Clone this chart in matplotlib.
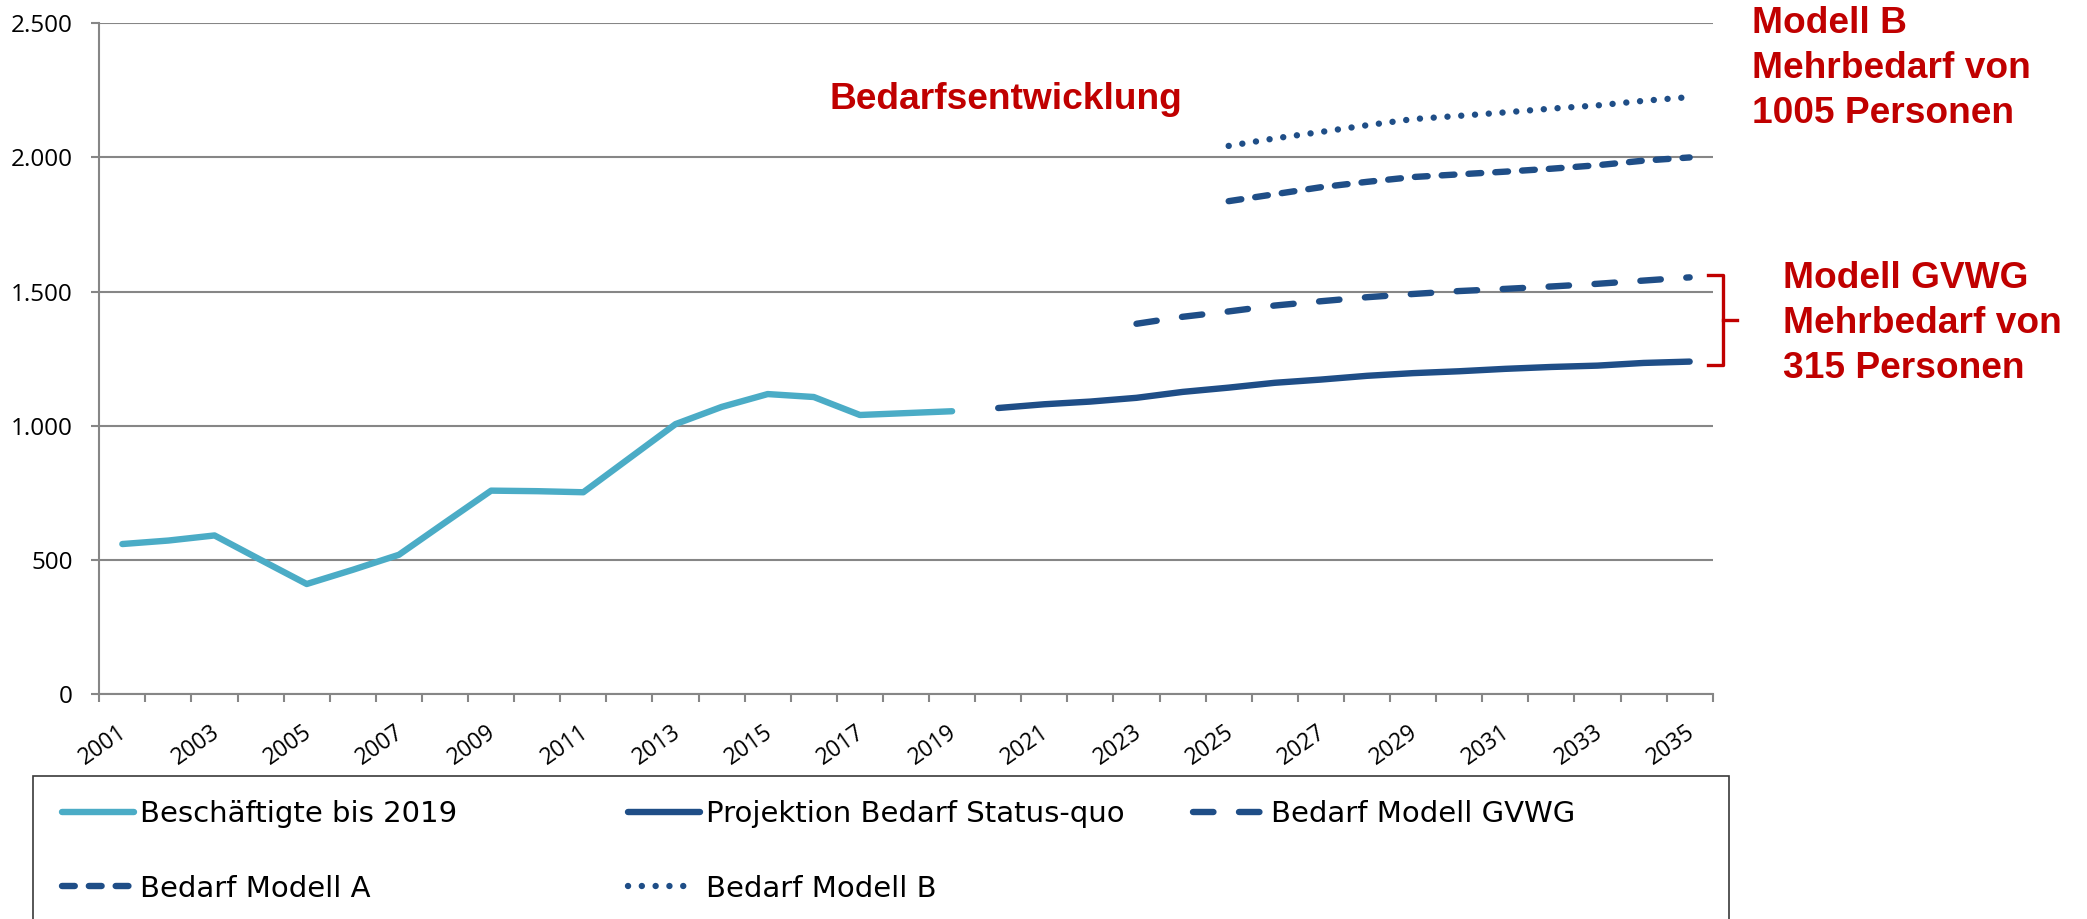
import numpy as np
import matplotlib.pyplot as plt
from matplotlib.lines import Line2D
from matplotlib.transforms import ScaledTranslation

W, H = 2087, 919

# data
years = np.arange(2001, 2036)
besch_years = np.arange(2001, 2020)
besch = [559, 572, 591, 500, 410, 463, 519, 639, 758, 756, 752, 879, 1006, 1070, 1118, 1107, 1040, 1047, 1054]
sq_years = np.arange(2020, 2036)
status_quo = [1066, 1080, 1090, 1104, 1126, 1142, 1160, 1172, 1186, 1196, 1203, 1212, 1219, 1224, 1234, 1239]
gvwg_years = np.arange(2023, 2036)
gvwg = [1380, 1406, 1426, 1448, 1464, 1479, 1491, 1502, 1510, 1519, 1529, 1541, 1553]
ab_years = np.arange(2025, 2036)
modell_a = [1837, 1863, 1889, 1909, 1927, 1937, 1947, 1958, 1971, 1988, 2000]
modell_b = [2043, 2071, 2095, 2120, 2143, 2155, 2168, 2182, 2194, 2211, 2225]

yticks = [0, 500, 1000, 1500, 2000, 2500]
ytick_labels = ['0', '500', '1.000', '1.500', '2.000', '2.500']
names = ['Beschäftigte bis 2019', 'Projektion Bedarf Status-quo', 'Bedarf Modell GVWG',
         'Bedarf Modell A', 'Bedarf Modell B']

light = '#4BACC6'
dark = '#1F4E87'
red = '#C00000'
grey = '#868686'

styles = [
    dict(color=light, ls='-'),
    dict(color=dark, ls='-'),
    dict(color=dark, ls=(0, (3.2, 4.0))),
    dict(color=dark, ls=(0, (2.0, 2.2))),
    dict(color=dark, ls=(0, (0.01, 2.15))),
]
common = dict(lw=4.6, solid_capstyle='round', dash_capstyle='round', solid_joinstyle='round')

fig = plt.figure(figsize=(W / 100, H / 100), dpi=100)
ax = fig.add_axes([99.3 / W, 1 - 694 / H, (1712.7 - 99.3) / W, (694 - 23.3) / H])

def xi(yrs):
    return np.asarray(yrs) - years[0]

series = [(besch_years, besch), (sq_years, status_quo), (gvwg_years, gvwg),
          (ab_years, modell_a), (ab_years, modell_b)]
for (yrs, vals), st, name in zip(series, styles, names):
    ax.plot(xi(yrs), vals, label=name, zorder=3, **st, **common)

ax.set_xlim(-0.5, len(years) - 0.5)
ax.set_ylim(0, 2500)

# axes / grid
for s in ['top', 'right']:
    ax.spines[s].set_visible(False)
for s in ['left', 'bottom']:
    ax.spines[s].set_color(grey)
    ax.spines[s].set_linewidth(1.5)
ax.set_yticks(yticks)
ax.set_yticklabels(ytick_labels, fontfamily='Open Sans', fontsize=17.5)
ax.yaxis.grid(True, color=grey, lw=1.5)
ax.tick_params(axis='y', length=6, width=1.5, color=grey, pad=13)

ax.set_xticks(xi(years[::2]))
ax.set_xticklabels([str(y) for y in years[::2]], fontfamily='Open Sans', fontsize=16.5,
                   rotation=35, ha='right', va='top', rotation_mode='anchor')
ax.tick_params(axis='x', which='major', length=0, pad=19)
shift = ScaledTranslation(-4.4 / 100, 0, fig.dpi_scale_trans)
for lbl in ax.get_xticklabels():
    lbl.set_transform(lbl.get_transform() + shift)
ax.set_xticks(np.arange(-0.5, len(years)), minor=True)
ax.tick_params(axis='x', which='minor', length=6, width=1.5, color=grey, direction='out')

# red annotations
red_font = dict(color=red, fontsize=26.7, fontfamily='Liberation Sans', fontweight='bold',
                va='baseline')
fig.text(829 / W, 1 - 109 / H, 'Bedarfsentwicklung', **red_font)
for k, line in enumerate(['Modell B', 'Mehrbedarf von', '1005 Personen']):
    fig.text(1752 / W, 1 - (33 + 45 * k) / H, line, **red_font)
for k, line in enumerate(['Modell GVWG', 'Mehrbedarf von', '315 Personen']):
    fig.text(1783 / W, 1 - (288 + 45 * k) / H, line, **red_font)

# bracket between status quo and GVWG at 2035
lo, hi = status_quo[-1] - 12, gvwg[-1] + 9
mid = (lo + hi) / 2
xb = xi(years[-1])
ax.plot([xb + 0.4, xb + 0.72, xb + 0.72, xb + 0.4], [hi, hi, lo, lo],
        color=red, lw=2.4, clip_on=False, solid_joinstyle='round')
ax.plot([xb + 0.72, xb + 1.03], [mid, mid], color=red, lw=2.4, clip_on=False)

# legend box drawn by hand (fixed column layout)
fig.add_artist(plt.Rectangle((33 / W, -0.05), (1729 - 33) / W, 0.05 + 1 - 776 / H,
                             transform=fig.transFigure, fill=False, ec='#3a3a3a', lw=1.2))
cols = [62, 628, 1193]
rows = [(812, 822), (886, 897)]
spots = [(0, 0), (0, 1), (0, 2), (1, 0), (1, 1)]
for (r, c), st, name in zip(spots, styles, names):
    x0 = cols[c]
    x1 = x0 + 72
    if name == 'Bedarf Modell B':
        x1 = x0 + 57
    yh, yb = rows[r]
    fig.add_artist(Line2D([x0 / W, x1 / W], [1 - yh / H] * 2, transform=fig.transFigure,
                          **st, **common))
    fig.text((x0 + 78) / W, 1 - yb / H, name, fontfamily='DejaVu Sans', fontsize=21,
             va='baseline')

fig.savefig('out.png', dpi=100)
